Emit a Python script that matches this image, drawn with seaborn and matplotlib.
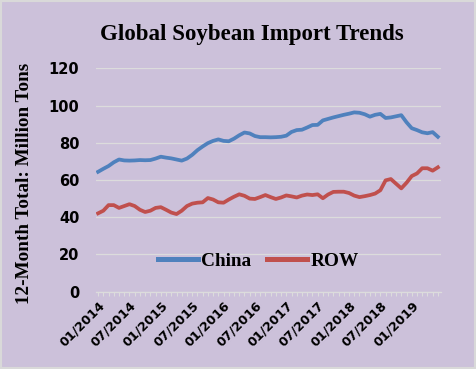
import pandas as pd
import numpy as np
import matplotlib
matplotlib.use('Agg')
import matplotlib.pyplot as plt
import seaborn as sns
from matplotlib.patches import Rectangle

# 月度数据：2014年1月 - 2019年6月（12个月滚动合计，百万吨）
months = pd.date_range('2014-01-01', '2019-06-01', freq='MS').strftime('%m/%Y').tolist()
china = [64.4, 66.0, 67.5, 69.5, 71.0, 70.5, 70.4, 70.5, 70.7, 70.6, 70.7, 71.5,
         72.5, 72.0, 71.6, 71.0, 70.4, 71.5, 73.5, 76.0, 78.0, 79.8, 81.0, 81.8,
         81.0, 80.8, 82.2, 84.0, 85.5, 85.0, 83.6, 83.0, 83.0, 82.9, 83.0, 83.2,
         83.8, 85.8, 86.8, 87.0, 88.2, 89.5, 89.6, 92.0, 92.8, 93.6, 94.3, 95.0,
         95.6, 96.3, 96.1, 95.3, 94.0, 95.0, 95.5, 93.3, 93.6, 94.2, 94.8, 91.0,
         87.8, 86.8, 85.6, 85.1, 85.7, 83.2]
row = [42.1, 43.5, 46.5, 46.5, 45.0, 46.0, 47.0, 46.0, 44.0, 42.8, 43.5, 45.0,
       45.4, 44.0, 42.5, 41.7, 43.5, 46.0, 47.3, 47.8, 48.0, 50.3, 49.5, 48.0,
       47.8, 49.5, 51.0, 52.3, 51.5, 50.0, 49.8, 50.8, 51.9, 50.8, 49.8, 50.6,
       51.7, 51.2, 50.6, 51.6, 52.2, 51.9, 52.3, 50.2, 52.2, 53.6, 53.7, 53.7,
       53.0, 51.6, 50.8, 51.3, 51.9, 52.7, 54.5, 59.8, 60.5, 58.0, 55.5, 58.5,
       62.1, 63.5, 66.3, 66.3, 65.0, 66.8]
series_names = ['China', 'ROW']
colors = ['#4F81BD', '#C0504D']

df = pd.DataFrame({'idx': list(range(len(months))) * 2,
                   'value': china + row,
                   'series': ['China'] * len(china) + ['ROW'] * len(row)})

bg = '#CCC1DA'
fig = plt.figure(figsize=(4.76, 3.69), dpi=100, facecolor=bg)
ax = fig.add_axes([0.2017, 0.2095, 0.7248, 0.6055], facecolor=bg)

sns.lineplot(data=df, x='idx', y='value', hue='series', hue_order=series_names,
             palette=colors, linewidth=2.7, ax=ax, legend=False)

ax.set_xlim(-0.4, len(months) - 1 + 0.6)
ax.set_ylim(0, 120)
ax.set_yticks(range(0, 121, 20))
ax.grid(axis='y', color='#DCDCDC', linewidth=0.9)
ax.set_axisbelow(True)
for s in ['top', 'right', 'left']:
    ax.spines[s].set_visible(False)
ax.spines['bottom'].set_color('#DCDCDC')
ax.spines['bottom'].set_linewidth(0.9)

ax.set_xticks(range(0, len(months), 6))
ax.set_xticks(range(len(months)), minor=True)
ax.set_xticklabels(months[::6], rotation=45, ha='right', rotation_mode='anchor',
                   fontsize=9.2, fontweight='bold', family='DejaVu Sans')
ax.tick_params(axis='x', which='both', length=3, color='#DCDCDC', width=0.8, pad=2)
ax.tick_params(axis='y', length=0, pad=12)
for t in ax.get_yticklabels():
    t.set_fontsize(10.5)
    t.set_fontweight('bold')

ax.set_xlabel('')
ax.set_ylabel('12-Month Total: Million Tons', fontsize=13.8, fontweight='bold',
              family='Liberation Serif')
ax.yaxis.set_label_coords(-0.183, 0.487)

fig.text(0.528, 0.907, 'Global Soybean Import Trends', ha='center', va='center',
         fontsize=16.5, fontweight='bold', family='Liberation Serif')

handles = [plt.Line2D([], [], color=c, linewidth=3.6) for c in colors]
ax.legend(handles, series_names, loc='center', bbox_to_anchor=(0.47, 0.137), ncol=2,
          frameon=False, handlelength=2.1, columnspacing=0.8, handletextpad=0.15,
          prop={'family': 'Liberation Serif', 'weight': 'bold', 'size': 13.9})

fig.patches.append(Rectangle((0.003, 0.004), 0.994, 0.992, transform=fig.transFigure,
                             fill=False, edgecolor='#D9D9D9', linewidth=1.5))

plt.savefig('out.png', dpi=100, facecolor=bg)
